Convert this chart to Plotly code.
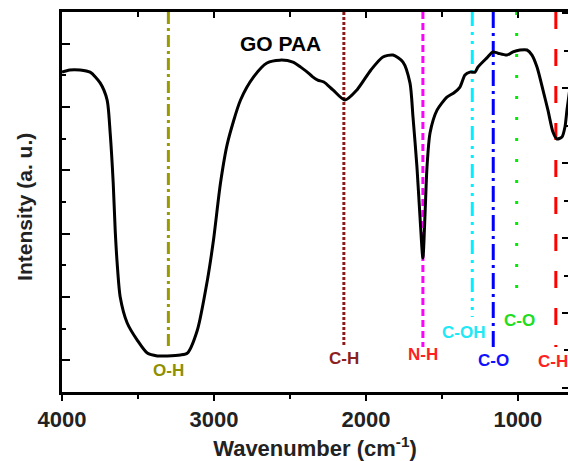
import plotly.graph_objects as go

# FTIR spectrum (GO PAA)
wavenumber = [4000, 3950, 3881, 3815, 3749, 3703, 3683, 3663, 3650, 3637, 3617, 3571,
              3505, 3439, 3373, 3307, 3221, 3175, 3109, 3043, 3003, 2957, 2911, 2825,
              2739, 2651, 2566, 2480, 2429, 2370, 2350, 2317, 2277, 2217, 2138, 2059,
              1967, 1888, 1822, 1756, 1710, 1690, 1664, 1644, 1625, 1611, 1598, 1578,
              1532, 1467, 1420, 1381, 1348, 1315, 1282, 1263, 1204, 1164, 1131, 1072,
              1032, 986, 940, 907, 874, 835, 802, 769, 743, 710, 690, 677, 660]
intensity = [10.10, 10.17, 10.17, 10.10, 9.76, 9.22, 8.18, 6.60, 5.12, 4.07, 3.00, 2.18,
             1.64, 1.23, 1.14, 1.14, 1.17, 1.23, 1.96, 3.54, 4.80, 6.60, 7.86, 9.22,
             9.95, 10.39, 10.48, 10.42, 10.26, 10.04, 9.95, 9.85, 9.79, 9.54, 9.22, 9.54,
             10.17, 10.58, 10.64, 10.42, 9.76, 8.68, 7.10, 5.53, 4.23, 5.60, 7.10, 8.18,
             8.90, 9.31, 9.45, 9.63, 10.01, 10.10, 10.10, 10.26, 10.55, 10.74, 10.70, 10.64,
             10.74, 10.80, 10.80, 10.64, 10.26, 9.54, 8.90, 8.21, 7.99, 8.05, 8.37, 8.90, 9.50]

# Assigned bands
peak_pos = [3300, 2145, 1625, 1300, 1162, 1008, 750]
peak_names = ["O-H", "C-H", "N-H", "C-OH", "C-O", "C-O", "C-H"]
line_end = [1.42, 1.48, 1.42, 2.37, 1.39, 2.97, 1.42]
label_y = [0.69, 1.07, 1.17, 1.89, 0.98, 2.27, 0.95]
label_dx = [0, 0, 0, -9, 0, 3, -3]
line_colors = ["#999900", "#8b1a1a", "#ff00ff", "#00f0ff", "#0000ff", "#00ee00", "#ff0000"]
label_colors = ["#8f8f00", "#8b2020", "#ff2020", "#20e8f5", "#1010ff", "#20dd20", "#ff2020"]
line_dash = ["12px,4px,3px,4px", "3px,2px", "7px,4px", "14px,6px,3px,6px,3px,6px",
             "16px,5px,3px,5px", "3px,18px", "17px,20px"]

X_RANGE = [4000, 670]
Y_RANGE = [0, 12]
Y2_RANGE = [-0.107, 10.027]
FONT = "Liberation Sans, Arial, sans-serif"

fig = go.Figure()

for x0, y_end, col, dash in zip(peak_pos, line_end, line_colors, line_dash):
    fig.add_trace(go.Scatter(x=[x0, x0], y=[Y_RANGE[1], y_end], mode="lines",
                             line=dict(color=col, width=3, dash=dash),
                             showlegend=False, hoverinfo="skip"))

fig.add_trace(go.Scatter(x=wavenumber, y=intensity, mode="lines",
                         line=dict(color="black", width=3, shape="spline", smoothing=0.7),
                         showlegend=False))

# invisible companion trace so the top/right frame axes get drawn
fig.add_trace(go.Scatter(x=wavenumber, y=intensity, xaxis="x2", yaxis="y2", mode="lines",
                         line=dict(width=0, color="rgba(0,0,0,0)"), opacity=0,
                         showlegend=False, hoverinfo="skip"))

for x0, name, ly, dx, col in zip(peak_pos, peak_names, label_y, label_dx, label_colors):
    fig.add_annotation(x=x0, y=ly, text=name, showarrow=False, xshift=dx,
                       font=dict(family=FONT, size=17, color=col, weight="bold"))

fig.add_annotation(x=2560, y=11.0, text="GO PAA", showarrow=False,
                   font=dict(family=FONT, size=21, color="black", weight="bold"))

# y-axis title
fig.add_annotation(xref="paper", yref="paper", x=0, y=0.487, xshift=-37,
                   xanchor="center", yanchor="middle",
                   text="Intensity (a. u.)", textangle=-90, showarrow=False,
                   font=dict(family=FONT, size=21, color="#222", weight="bold"))

fig.update_layout(
    width=568, height=461,
    margin=dict(l=62, r=0, t=12, b=69),
    paper_bgcolor="white", plot_bgcolor="white",
    showlegend=False,
    xaxis=dict(range=X_RANGE, showgrid=False, zeroline=False,
               showline=True, linecolor="black", linewidth=3,
               ticks="outside", tickcolor="black", tickwidth=2, ticklen=6,
               tick0=0, dtick=1000,
               minor=dict(dtick=500, ticks="outside", ticklen=4, tickwidth=2, tickcolor="black"),
               tickfont=dict(family=FONT, size=22, color="#222", weight="bold"),
               title=dict(text="Wavenumber (cm<sup>-1</sup>)", standoff=10,
                          font=dict(family=FONT, size=22, color="#222", weight="bold")),
               automargin=False),
    xaxis2=dict(range=X_RANGE, overlaying="x", side="top", showgrid=False, zeroline=False,
                showline=True, linecolor="black", linewidth=3,
                ticks="inside", tickcolor="black", tickwidth=2, ticklen=6,
                tick0=0, dtick=1000, showticklabels=False,
                minor=dict(dtick=500, ticks="inside", ticklen=5, tickwidth=2, tickcolor="black"),
                automargin=False),
    yaxis=dict(range=Y_RANGE, showgrid=False, zeroline=False,
               showline=True, linecolor="black", linewidth=3,
               ticks="inside", tickcolor="black", tickwidth=2, ticklen=8,
               tick0=1, dtick=2, showticklabels=False,
               minor=dict(dtick=1, ticks="inside", ticklen=4, tickwidth=2, tickcolor="black"),
               automargin=False),
    yaxis2=dict(range=Y2_RANGE, overlaying="y", side="right", showgrid=False,
                zeroline=False, showline=False,
                ticks="inside", tickcolor="black", tickwidth=2, ticklen=6,
                tick0=0, dtick=2, showticklabels=False,
                minor=dict(dtick=1, ticks="inside", ticklen=4, tickwidth=2, tickcolor="black"),
                automargin=False),
)

fig.write_html("out.html", config={"displayModeBar": False},
               post_script="document.body.style.margin='0';document.body.style.overflow='hidden';")
